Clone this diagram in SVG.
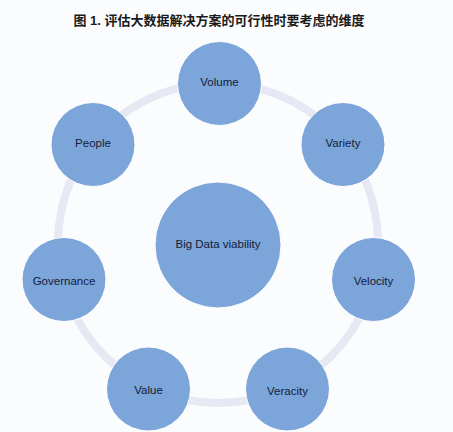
<svg xmlns="http://www.w3.org/2000/svg" width="453" height="432" viewBox="0 0 453 432">
<style>
.title{font-family:"Liberation Sans","Noto Sans CJK SC",sans-serif;font-size:13px;font-weight:bold;fill:#1a1a1a}
.node circle{fill:#7ca5d9;stroke:#ffffff;stroke-width:1}
.node text{font-family:"Liberation Sans",Arial,sans-serif;font-size:11.5px;fill:#14203a;text-anchor:middle;dominant-baseline:central}
.ring{fill:none;stroke:#e6e9f4;stroke-width:8}
</style>
<rect width="453" height="432" fill="#fbfcfd"/>
<text class="title" x="219" y="25" text-anchor="middle">图 1. 评估大数据解决方案的可行性时要考虑的维度</text>
<g id="connectors">
<circle class="ring" cx="218" cy="243" r="160"/>
</g>
<g id="center" class="node"><circle cx="218" cy="245" r="63"/><text x="218" y="244">Big Data viability</text></g>
<g id="volume" class="node"><circle cx="219.5" cy="83.5" r="42"/><text x="219.5" y="82">Volume</text></g>
<g id="variety" class="node"><circle cx="343" cy="144.5" r="42"/><text x="343" y="143">Variety</text></g>
<g id="velocity" class="node"><circle cx="373.5" cy="279.5" r="42"/><text x="373.5" y="281">Velocity</text></g>
<g id="veracity" class="node"><circle cx="287.5" cy="389" r="42"/><text x="287.5" y="391">Veracity</text></g>
<g id="value" class="node"><circle cx="148.5" cy="389" r="42"/><text x="148.5" y="390">Value</text></g>
<g id="governance" class="node"><circle cx="64" cy="279.5" r="42"/><text x="64" y="281">Governance</text></g>
<g id="people" class="node"><circle cx="93" cy="144.5" r="42"/><text x="93" y="143">People</text></g>
</svg>
